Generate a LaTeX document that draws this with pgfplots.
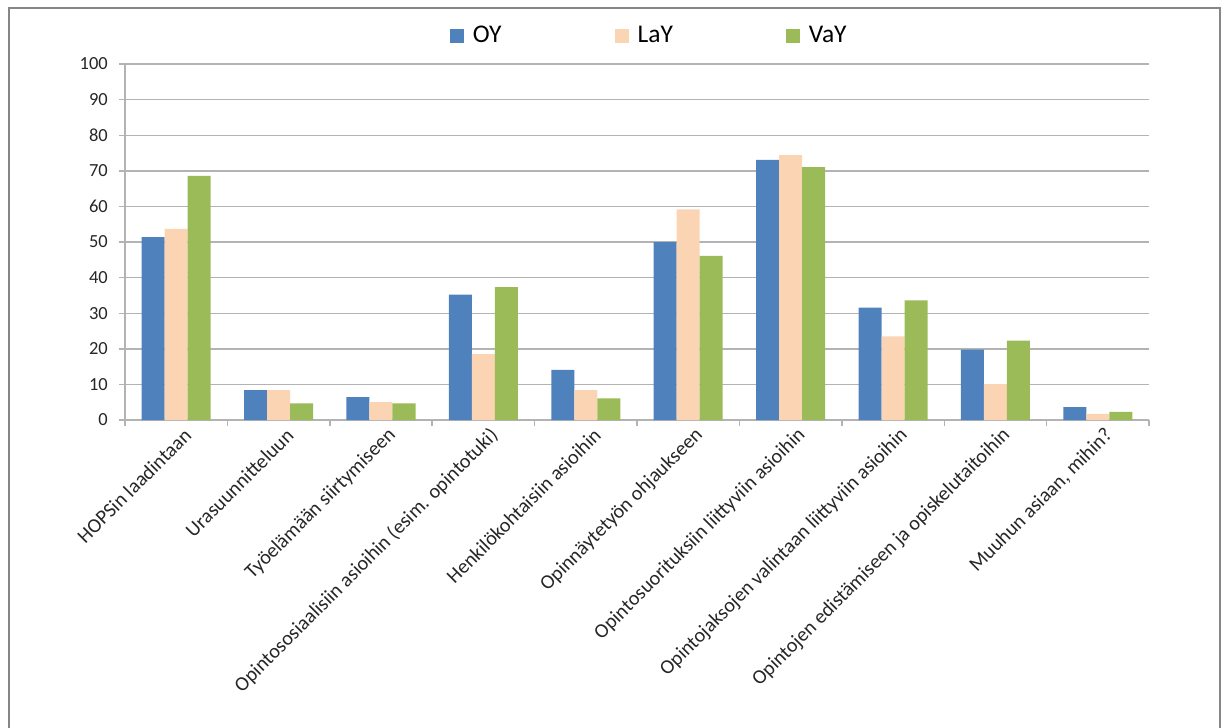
\documentclass[border=0pt]{standalone}
\usepackage{pgfplots}
\pgfplotsset{compat=1.18}
\usepackage{fontspec}
\setmainfont{Carlito}
\definecolor{cOY}{HTML}{4F81BD}
\definecolor{cLaY}{HTML}{FBD4B4}
\definecolor{cVaY}{HTML}{9BBB59}
\definecolor{gridc}{HTML}{B3B3B3}
\definecolor{framec}{HTML}{868686}
\begin{document}
\begin{tikzpicture}
\path[use as bounding box] (-2.5cm,-6.14cm) rectangle (21.94cm,8.4cm);
\draw[framec, line width=1.2pt] (-2.32cm,-6.5cm) -- (-2.32cm,8.24cm) -- (21.9cm,8.24cm) -- (21.9cm,-6.5cm);
\begin{axis}[
  at={(0,0)}, anchor=south west,
  scale only axis, width=20.48cm, height=7.12cm,
  ybar=0pt, bar width=0.46cm,
  xmin=0.5, xmax=10.5, ymin=0, ymax=100,
  enlargelimits=false,
  axis x line*=bottom, axis y line*=left,
  axis line style={gridc, line width=0.8pt},
  ytick={0,10,...,100},
  ymajorgrids, grid style={gridc, line width=0.8pt},
  xtick={1,...,10},
  xticklabels={HOPSin laadintaan,Urasuunnitteluun,Työelämään siirtymiseen,Opintososiaalisiin asioihin (esim. opintotuki),Henkilökohtaisiin asioihin,Opinnäytetyön ohjaukseen,Opintosuorituksiin liittyviin asioihin,Opintojaksojen valintaan liittyviin asioihin,Opintojen edistämiseen ja opiskelutaitoihin,Muuhun asiaan{,} mihin?},
  minor xtick={0.5,1.5,...,10.5},
  x tick style={draw=none},
  minor x tick style={draw=gridc, line width=0.8pt},
  y tick style={draw=gridc, line width=0.8pt},
  tick align=outside,
  major tick length=0.12cm, minor tick length=0.12cm,
  /pgf/number format/assume math mode=true,
  yticklabel style={font=\fontsize{10.5}{12}\selectfont, text=black!85, xshift=-0.1cm},
  xticklabel style={font=\fontsize{11.5}{13}\selectfont, text=black!85, rotate=45, anchor=east, xshift=0.2cm, yshift=-0.25cm},
  legend style={at={(0.513,1)}, anchor=south, yshift=0.22cm, draw=none, fill=none,
    font=\fontsize{14.5}{17}\selectfont, legend columns=3,
    /tikz/every odd column/.append style={column sep=0.1cm},
    /tikz/every even column/.append style={column sep=2.2cm}},
  legend image code/.code={\fill[#1] (0cm,-0.14cm) rectangle (0.28cm,0.14cm);},
]
\addplot[fill=cOY, draw=none] coordinates {(1,51.4) (2,8.4) (3,6.4) (4,35.2) (5,14.1) (6,50.0) (7,73.1) (8,31.6) (9,19.8) (10,3.6)};
\addplot[fill=cLaY, draw=none] coordinates {(1,53.7) (2,8.4) (3,5.0) (4,18.5) (5,8.4) (6,59.2) (7,74.4) (8,23.5) (9,10.1) (10,1.7)};
\addplot[fill=cVaY, draw=none] coordinates {(1,68.6) (2,4.7) (3,4.7) (4,37.3) (5,6.1) (6,46.1) (7,71.0) (8,33.6) (9,22.3) (10,2.3)};
\legend{OY,LaY,VaY}
\end{axis}
\end{tikzpicture}
\end{document}
